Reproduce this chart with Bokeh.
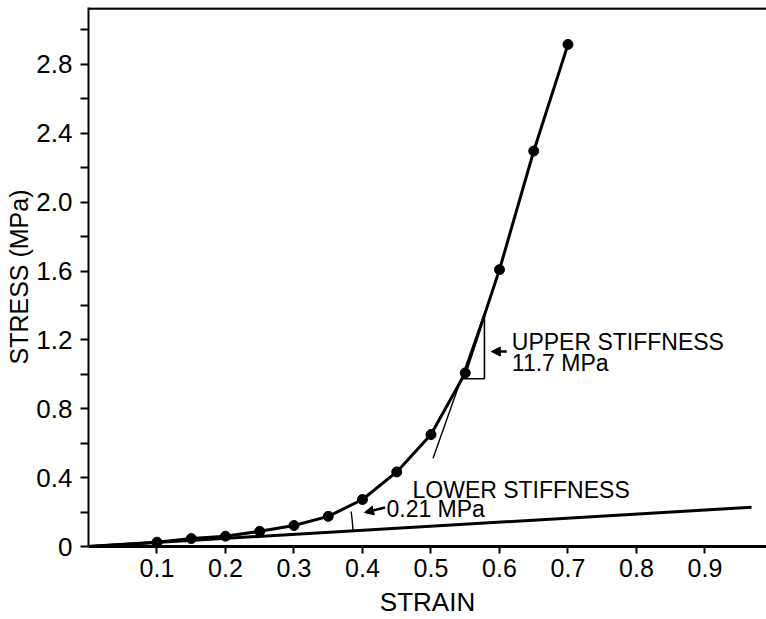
from bokeh.plotting import figure
from bokeh.models import FixedTicker, NumeralTickFormatter, Arrow, NormalHead, Span, Range1d
from bokeh.core.properties import value
from bokeh.embed import file_html
from bokeh.resources import INLINE

# ---- data ----
strain = [0.10, 0.15, 0.20, 0.25, 0.30, 0.35, 0.40, 0.45, 0.50, 0.55, 0.60, 0.65, 0.70]
stress = [0.025, 0.046, 0.060, 0.088, 0.122, 0.175, 0.273, 0.433, 0.650, 1.008, 1.608, 2.297, 2.916]
origin_x = [0.0]
origin_y = [0.0]

lower_x = [0.0, 0.968]          # lower stiffness line
lower_y = [0.0, 0.228]
upper_x = [0.503, 0.578]        # upper stiffness tangent
upper_y = [0.512, 1.355]
tri_x = [0.547, 0.578, 0.578]   # slope triangle
tri_y = [0.974, 0.974, 1.355]

x_ticks = [0.1, 0.2, 0.3, 0.4, 0.5, 0.6, 0.7, 0.8, 0.9]
y_major = [0.0, 0.4, 0.8, 1.2, 1.6, 2.0, 2.4, 2.8]
y_minor = [0.2, 0.6, 1.0, 1.4, 1.8, 2.2, 2.6, 3.0]

x_title = "STRAIN"
y_title = "STRESS (MPa)"
upper_text = ["UPPER STIFFNESS", "11.7 MPa"]
upper_text_x = [0.618, 0.618]
upper_text_y = [1.187, 1.065]
lower_text = ["LOWER STIFFNESS", "0.21 MPa"]
lower_text_x = [0.473, 0.435]
lower_text_y = [0.328, 0.216]

FONT = "Liberation Sans"

p = figure(width=766, height=619, output_backend="svg", toolbar_location=None,
           x_range=Range1d(0, 0.9898), y_range=Range1d(0, 3.1304),
           min_border_left=88, min_border_right=0, min_border_top=7, min_border_bottom=72)
p.outline_line_color = None
p.grid.visible = False
p.background_fill_color = "white"

# axes
p.xaxis.ticker = FixedTicker(ticks=x_ticks, minor_ticks=[])
p.xaxis.formatter = NumeralTickFormatter(format="0.0")
p.yaxis.ticker = FixedTicker(ticks=y_major, minor_ticks=y_minor)
p.yaxis.major_label_overrides = {0.0: "0"}
p.yaxis.formatter = NumeralTickFormatter(format="0.0")
for ax in (p.xaxis, p.yaxis):
    ax.axis_line_color = "black"
    ax.major_tick_line_color = "black"
    ax.minor_tick_line_color = "black"
    ax.major_tick_line_width = 2
    ax.minor_tick_line_width = 2
    ax.major_tick_in = 0
    ax.minor_tick_in = 0
    ax.major_label_text_font = FONT
    ax.major_label_text_color = "black"
    ax.axis_label_text_font = FONT
    ax.axis_label_text_font_style = "normal"
    ax.axis_label_text_color = "black"
p.xaxis.major_label_text_font_size = "25px"
p.yaxis.major_label_text_font_size = "26px"
p.xaxis.axis_line_width = 3
p.yaxis.axis_line_width = 2
p.xaxis.major_tick_out = 7
p.xaxis.major_label_standoff = 5
p.yaxis.major_tick_out = 8
p.yaxis.minor_tick_out = 8
p.yaxis.major_label_standoff = 8
p.xaxis.axis_label = x_title
p.xaxis.axis_label_text_font_size = "26px"
p.xaxis.axis_label_standoff = 7
p.yaxis.axis_label = y_title
p.yaxis.axis_label_text_font_size = "25px"
p.yaxis.axis_label_standoff = 0

# top border
p.add_layout(Span(location=3.125, dimension="width", line_color="black", line_width=2.5))

# lines and points
p.line(lower_x, lower_y, line_color="black", line_width=3)
p.line(origin_x + strain, origin_y + stress, line_color="black", line_width=3)
p.line(upper_x, upper_y, line_color="black", line_width=1.4)
p.line(tri_x, tri_y, line_color="black", line_width=1.6)
p.scatter(strain, stress, size=10, color="black")

# angle arc
p.arc(x=origin_x, y=origin_y, radius=265, radius_units="screen",
      start_angle=0.062, end_angle=0.132, line_color="black", line_width=1.4)

# arrows
p.add_layout(Arrow(end=NormalHead(size=9, fill_color="black", line_color="black"),
                   x_start=0.6105, y_start=1.132, x_end=0.588, y_end=1.132,
                   line_color="black", line_width=2.5))
p.add_layout(Arrow(end=NormalHead(size=9, fill_color="black", line_color="black"),
                   x_start=0.433, y_start=0.226, x_end=0.403, y_end=0.197,
                   line_color="black", line_width=2.5))

# annotation texts
p.text(x=upper_text_x, y=upper_text_y, text=upper_text,
       text_font=value(FONT), text_font_size="23px",
       text_align="left", text_baseline="alphabetic", text_color="black")
p.text(x=lower_text_x, y=lower_text_y, text=lower_text,
       text_font=value(FONT), text_font_size="23px",
       text_align="left", text_baseline="alphabetic", text_color="black")

open("out.html", "w").write(file_html(p, INLINE))
